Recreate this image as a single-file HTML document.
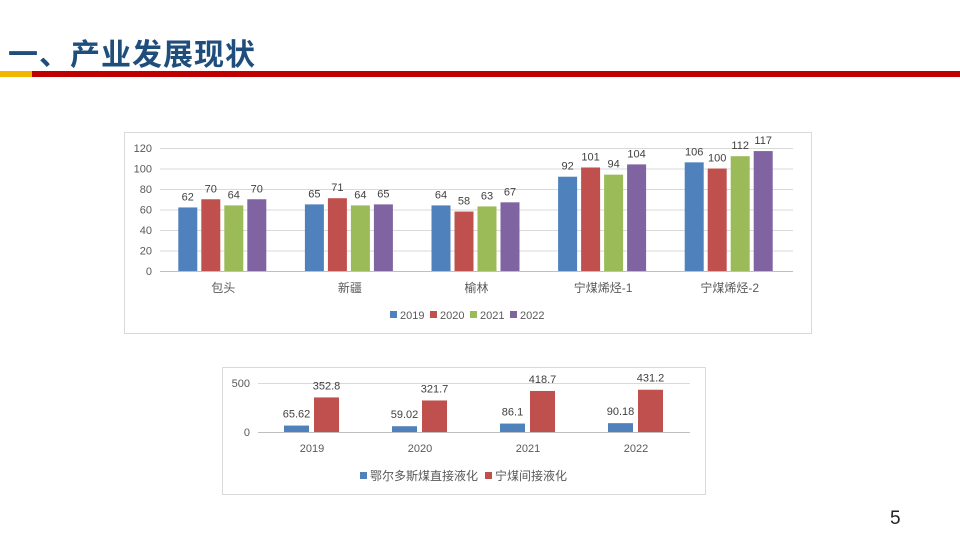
<!DOCTYPE html>
<html><head><meta charset="utf-8"><style>
body{margin:0;width:960px;height:540px;background:#fff;overflow:hidden;position:relative;font-family:"Liberation Sans","Noto Sans CJK SC",sans-serif}
.abs{position:absolute}
svg text{font-family:"Liberation Sans","Noto Sans CJK SC",sans-serif}
</style></head><body>
<div class="abs" style="left:8px;top:30px;font-size:30px;font-weight:bold;color:#1f4e7d;font-family:'Noto Sans CJK SC',sans-serif;letter-spacing:1px">一、产业发展现状</div>
<div class="abs" style="left:0;top:71px;width:32px;height:6px;background:#f2b600"></div>
<div class="abs" style="left:32px;top:71px;width:928px;height:6px;background:#c00000"></div>
<div class="abs" style="left:890px;top:508px;font-size:19px;color:#222">5</div>

<svg class="abs" style="left:0;top:0" width="960" height="540">
<rect x="124.5" y="132.5" width="687" height="201" fill="#fff" stroke="#d9d9d9"/>
<rect x="222.5" y="367.5" width="483" height="127" fill="#fff" stroke="#d9d9d9"/>
<g id="c1"></g><g id="c2"></g>
</svg>
<script>
const cats1=["包头","新疆","榆林","宁煤烯烃-1","宁煤烯烃-2"];
const years1=["2019","2020","2021","2022"];
const s2019=[62,65,64,92,106];
const s2020=[70,71,58,101,100];
const s2021=[64,64,63,94,112];
const s2022=[70,65,67,104,117];
const ticks1=[0,20,40,60,80,100,120];
const cats2=["2019","2020","2021","2022"];
const sDirect=[65.62,59.02,86.1,90.18];
const sIndirect=[352.8,321.7,418.7,431.2];
const ticks2=[0,500];
const names2=["鄂尔多斯煤直接液化","宁煤间接液化"];

const NS="http://www.w3.org/2000/svg";
function mk(p,t,a){const e=document.createElementNS(NS,t);for(const k in a)e.setAttribute(k,a[k]);p.appendChild(e);return e;}
const cols=["#4f81bd","#c0504d","#9bbb59","#8064a2"];

// chart1
const g1=document.getElementById('c1');
const x0=160,x1=793,yB=271,yT=148,vmax=120;
const y1=v=>yB-(v/vmax)*(yB-yT);
const gw=(x1-x0)/cats1.length;
ticks1.forEach(t=>{
 const l=mk(g1,'line',{x1:x0,x2:x1,y1:y1(t)+.5,y2:y1(t)+.5,stroke:t?'#d9d9d9':'#bfbfbf'});
 
 const tx=mk(g1,'text',{x:152,y:y1(t)+4,'text-anchor':'end','font-size':11,fill:'#595959'});tx.textContent=t;
 
});
const series1=[s2019,s2020,s2021,s2022];
cats1.forEach((c,i)=>{
 const cx=x0+gw*(i+0.5);
 series1.forEach((s,j)=>{
  const bx=cx-45+j*23;
  const r=mk(g1,'rect',{x:bx,y:y1(s[i]),width:19,height:yB-y1(s[i]),fill:cols[j]});
  
  const t=mk(g1,'text',{x:bx+9.5,y:y1(s[i])-7,'text-anchor':'middle','font-size':11,fill:'#404040'});t.textContent=s[i];
  
 });
 const t=mk(g1,'text',{x:cx,y:292,'text-anchor':'middle','font-size':12,fill:'#595959'});t.textContent=c;
 
});
years1.forEach((y,j)=>{
 const lx=390+j*40;
 const r=mk(g1,'rect',{x:lx,y:311,width:7,height:7,fill:cols[j]});
 
 const t=mk(g1,'text',{x:lx+10,y:319,'font-size':11,fill:'#595959'});t.textContent=y;
 
});

// chart2
const g2=document.getElementById('c2');
const a0=258,a1=690,bB=432,bT=383,vm2=500;
const y2=v=>bB-(v/vm2)*(bB-bT);
const gw2=(a1-a0)/cats2.length;
ticks2.forEach(t=>{
 const l=mk(g2,'line',{x1:a0,x2:a1,y1:y2(t)+.5,y2:y2(t)+.5,stroke:t?'#d9d9d9':'#bfbfbf'});
 
 const tx=mk(g2,'text',{x:250,y:y2(t)+4,'text-anchor':'end','font-size':11,fill:'#595959'});tx.textContent=t;
 
});
[sDirect,sIndirect].forEach((s,j)=>{
 cats2.forEach((c,i)=>{
  const cx=x=a0+gw2*(i+0.5);
  const bx=cx-28+j*30;
  const r=mk(g2,'rect',{x:bx,y:y2(s[i]),width:25,height:bB-y2(s[i]),fill:cols[j]});
  
  const t=mk(g2,'text',{x:bx+12.5,y:y2(s[i])-8,'text-anchor':'middle','font-size':11,fill:'#404040'});t.textContent=s[i];
  
 });
});
cats2.forEach((c,i)=>{
 const t=mk(g2,'text',{x:a0+gw2*(i+0.5),y:452,'text-anchor':'middle','font-size':11,fill:'#595959'});t.textContent=c;
 
});
names2.forEach((n,j)=>{
 const lx=j?485:360;
 const r=mk(g2,'rect',{x:lx,y:472,width:7,height:7,fill:cols[j]});
 
 const t=mk(g2,'text',{x:lx+10,y:480,'font-size':12,fill:'#595959'});t.textContent=n;
 
});
</script>
</body></html>
